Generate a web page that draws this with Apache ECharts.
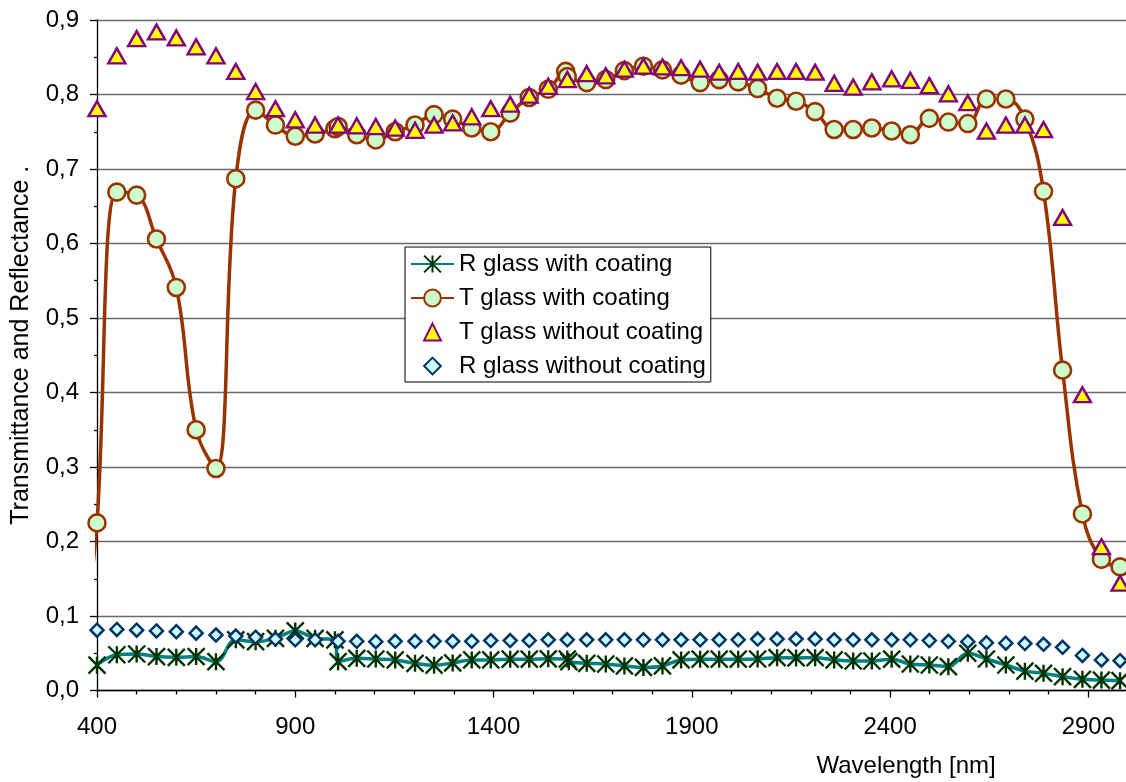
<!DOCTYPE html>
<html><head><meta charset="utf-8">
<script src="https://cdn.jsdelivr.net/npm/echarts@6/dist/echarts.min.js"></script>
<style>html,body{margin:0;padding:0;background:#fff}#c{width:1126px;height:782px}</style>
</head><body><div id="c"></div>
<script>
// ---- data ----
const seriesNames = ['R glass with coating', 'T glass with coating', 'T glass without coating', 'R glass without coating'];

const wavelengths = [400,450,500,550,600,650,700,750,800,850,900,950,1008,1055,1103,1152,1202,1250,1297,1345,1393,1442,1490,1538,1586,1635,1683,1730,1778,1826,1873,1921,1969,2017,2066,2115,2163,2211,2259,2307,2354,2404,2451,2499,2547,2596,2643,2692,2740,2787,2835,2885,2933,2980];

const tWithoutCoating = [0.781,0.852,0.875,0.884,0.876,0.864,0.852,0.831,0.804,0.781,0.766,0.759,0.759,0.758,0.757,0.755,0.752,0.759,0.762,0.770,0.781,0.787,0.799,0.811,0.820,0.828,0.825,0.834,0.838,0.837,0.836,0.834,0.830,0.831,0.830,0.831,0.831,0.830,0.815,0.810,0.817,0.821,0.819,0.812,0.801,0.789,0.751,0.759,0.759,0.753,0.635,0.397,0.193,0.144];

const rWithoutCoating = [0.081,0.082,0.081,0.080,0.079,0.077,0.0745,0.073,0.0715,0.069,0.068,0.068,0.066,0.066,0.0655,0.066,0.066,0.066,0.066,0.066,0.067,0.067,0.067,0.068,0.068,0.068,0.068,0.068,0.068,0.068,0.068,0.068,0.068,0.068,0.069,0.069,0.069,0.069,0.068,0.068,0.068,0.068,0.068,0.067,0.066,0.0655,0.064,0.0635,0.063,0.062,0.058,0.047,0.041,0.040];

// first point (378 nm) lies just left of the axis; only its line segment is visible
const wavelengthsTCoat = [378,400,450,500,550,600,650,700,750,800,850,900,950,1000,1008,1055,1103,1152,1202,1250,1297,1345,1393,1442,1490,1538,1582,1586,1635,1683,1730,1778,1826,1873,1921,1969,2017,2066,2115,2163,2211,2259,2307,2354,2404,2451,2499,2547,2596,2643,2692,2740,2787,2835,2885,2933,2980];
const tWithCoating = [0.117,0.225,0.669,0.665,0.606,0.541,0.350,0.298,0.687,0.779,0.759,0.744,0.747,0.754,0.757,0.746,0.739,0.750,0.759,0.773,0.767,0.755,0.750,0.775,0.796,0.807,0.831,0.824,0.816,0.820,0.832,0.838,0.833,0.826,0.816,0.820,0.817,0.808,0.795,0.791,0.777,0.753,0.753,0.755,0.751,0.746,0.768,0.763,0.761,0.794,0.794,0.767,0.670,0.430,0.237,0.176,0.166];

const wavelengthsRCoat = [400,450,500,550,600,650,700,750,800,850,900,950,1000,1008,1055,1103,1152,1202,1250,1297,1345,1393,1442,1490,1538,1586,1590,1635,1683,1730,1778,1826,1873,1921,1969,2017,2066,2115,2163,2211,2259,2307,2354,2404,2451,2499,2547,2596,2643,2692,2740,2787,2835,2885,2933,2980];
const rWithCoating = [0.034,0.048,0.049,0.0455,0.0445,0.0455,0.0387,0.068,0.0655,0.070,0.080,0.070,0.068,0.0387,0.0432,0.0423,0.041,0.0365,0.034,0.037,0.041,0.041,0.042,0.042,0.0425,0.0423,0.0387,0.0365,0.0356,0.033,0.031,0.033,0.041,0.042,0.042,0.042,0.0423,0.044,0.0437,0.044,0.041,0.0396,0.0396,0.042,0.0356,0.0342,0.032,0.050,0.0423,0.0342,0.026,0.023,0.0186,0.015,0.014,0.0132];

const xMin = 400, xMax = 3000, xStep = 500;
const yMin = 0, yMax = 0.9, yStep = 0.1;
const yTitle = 'Transmittance and Reflectance .';
const xTitle = 'Wavelength [nm]';

// ---- chart ----
const pairs = (xs, ys) => xs.map((x, i) => [x, ys[i]]);
const FONT = 'Liberation Sans';
const starPath = 'path://M0,0L10,10M10,0L0,10M5,0L5,10';

const tCoatData = pairs(wavelengthsTCoat, tWithCoating).map(p =>
  p[0] < xMin ? {value: p, symbol: 'none'} : p);

const chart = echarts.init(document.getElementById('c'), null, {renderer: 'canvas'});
chart.setOption({
  animation: false,
  backgroundColor: '#fff',
  grid: {left: 97, top: 20, width: 1031, bottom: 91.5, outerBoundsMode: 'none', containLabel: false},
  legend: {
    orient: 'vertical', left: 405, top: 247,
    itemWidth: 43, itemHeight: 21, itemGap: 10,
    padding: [5, 5, 4, 5],
    borderColor: '#000', borderWidth: 1, backgroundColor: '#fff',
    selectedMode: false,
    textStyle: {fontFamily: FONT, fontSize: 24, color: '#000'},
    data: seriesNames
  },
  xAxis: {
    type: 'value', min: xMin, max: xMax, interval: xStep,
    name: xTitle, nameLocation: 'middle', nameGap: 64,
    nameTextStyle: {fontFamily: FONT, fontSize: 24, color: '#000', align: 'left', padding: [0, 0, 0, 204]},
    axisLine: {show: true, onZero: false, lineStyle: {color: '#000', width: 1.3}},
    axisTick: {show: true, length: 7, lineStyle: {color: '#000', width: 1.3}},
    minorTick: {show: true, splitNumber: 5, length: 4, lineStyle: {color: '#000', width: 1.3}},
    axisLabel: {fontFamily: FONT, fontSize: 24, color: '#000', margin: 25, showMaxLabel: false,
      formatter: v => String(v)},
    splitLine: {show: false}
  },
  yAxis: {
    type: 'value', min: yMin, max: yMax, interval: yStep,
    name: yTitle, nameLocation: 'middle', nameGap: 63,
    nameTextStyle: {fontFamily: FONT, fontSize: 25, color: '#000', padding: [0, 0, 0, 20]},
    axisLine: {show: true, lineStyle: {color: '#000', width: 1.3}},
    axisTick: {show: true, length: 7, lineStyle: {color: '#000', width: 1.3}},
    minorTick: {show: true, splitNumber: 2, length: 3, lineStyle: {color: '#000', width: 1.3}},
    axisLabel: {fontFamily: FONT, fontSize: 24, color: '#000', margin: 18,
      formatter: v => v.toFixed(1).replace('.', ',')},
    splitLine: {show: true, lineStyle: {color: '#6a6a6a', width: 1.3}}
  },
  series: [
    {
      name: seriesNames[0], type: 'line', smooth: 0.4,
      data: pairs(wavelengthsRCoat, rWithCoating),
      symbol: starPath, symbolSize: 17, showAllSymbol: true,
      lineStyle: {color: '#008080', width: 3.5},
      itemStyle: {color: '#003300', borderColor: '#003300', borderWidth: 2.4},
      emphasis: {disabled: true}
    },
    {
      name: seriesNames[1], type: 'line', smooth: 0.4, clip: false,
      data: tCoatData,
      symbol: 'circle', symbolSize: 17, showAllSymbol: true,
      lineStyle: {color: '#993300', width: 3.5},
      itemStyle: {color: '#CCFFCC', borderColor: '#993300', borderWidth: 2.6},
      emphasis: {disabled: true}
    },
    {
      name: seriesNames[2], type: 'line',
      data: pairs(wavelengths, tWithoutCoating),
      symbol: 'triangle', symbolSize: [17, 15], showAllSymbol: true,
      lineStyle: {width: 0, opacity: 0},
      itemStyle: {color: '#FFFF00', borderColor: '#800080', borderWidth: 2.4},
      emphasis: {disabled: true}
    },
    {
      name: seriesNames[3], type: 'line',
      data: pairs(wavelengths, rWithoutCoating),
      symbol: 'diamond', symbolSize: 13, showAllSymbol: true,
      lineStyle: {width: 0, opacity: 0},
      itemStyle: {color: '#CCFFFF', borderColor: '#003366', borderWidth: 2.5},
      emphasis: {disabled: true}
    }
  ]
});
</script></body></html>
